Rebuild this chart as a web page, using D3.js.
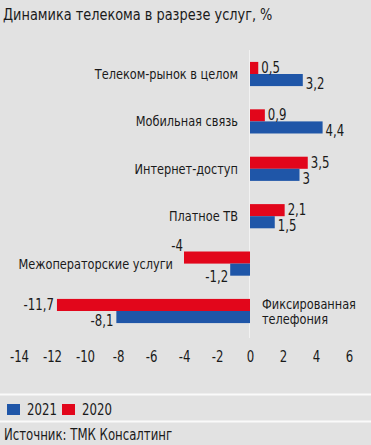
<!DOCTYPE html>
<html>
<head>
<meta charset="utf-8">
<script src="https://cdn.jsdelivr.net/npm/d3@7"></script>
<style>
  html, body { margin: 0; padding: 0; background: #e2e2e2; }
  svg { display: block; font-family: "DejaVu Sans Condensed", "Liberation Sans Narrow", sans-serif; }
</style>
</head>
<body>
<svg id="chart" width="371" height="445"></svg>
<script>
// data
const categories = ['Телеком-рынок в целом', 'Мобильная связь', 'Интернет-доступ', 'Платное ТВ', 'Межоператорские услуги', 'Фиксированная телефония'];
const series = ['2020', '2021'];
const values2020 = [0.5, 0.9, 3.5, 2.1, -4, -11.7];
const values2021 = [3.2, 4.4, 3, 1.5, -1.2, -8.1];
const xTicks = [-14, -12, -10, -8, -6, -4, -2, 0, 2, 4, 6];
const colors = { '2021': '#1f56a8', '2020': '#e2061b' };

const svg = d3.select('#chart');
const width = 371;
const SX = 0.87; // narrow the font a bit, the original uses a condensed face
const textColor = '#1a1a1a';

const locale = d3.formatLocale({ decimal: ',', thousands: ' ', grouping: [3], currency: ['', ''], minus: '-' });
const fmt = locale.format('~g');

const x = d3.scaleLinear().domain([-14, 6]).range([19, 349]);
const y = d3.scaleBand().domain(categories).range([50.3, 334.7]).paddingInner(0.49).paddingOuter(0.245);
const ySub = d3.scaleBand().domain(series).range([0, y.bandwidth()]);

function addText(parent, tx, ty, str, size, anchor) {
    return parent.append('text')
        .attr('transform', `translate(${tx}, ${ty}) scale(${SX}, 1)`)
        .attr('text-anchor', anchor || 'start')
        .attr('font-size', size)
        .attr('fill', textColor)
        .text(str);
}

// title
addText(svg, 3, 20, 'Динамика телекома в разрезе услуг, %', 16.5);

// zero line
svg.append('line')
    .attr('x1', x(0) - 0.5).attr('x2', x(0) - 0.5)
    .attr('y1', 50).attr('y2', 338)
    .attr('stroke', '#f2f2f2')
    .attr('stroke-width', 1);

const rows = categories.map((c, i) => ({ cat: c, '2020': values2020[i], '2021': values2021[i] }));

const groups = svg.append('g').selectAll('g')
    .data(rows)
    .enter()
    .append('g')
    .attr('transform', (d) => `translate(0, ${y(d.cat)})`);

groups.selectAll('rect')
    .data((d) => series.map((s) => ({ key: s, value: d[s] })))
    .enter()
    .append('rect')
    .attr('x', (d) => x(Math.min(0, d.value)))
    .attr('width', (d) => Math.abs(x(d.value) - x(0)))
    .attr('y', (d) => ySub(d.key))
    .attr('height', ySub.bandwidth())
    .attr('fill', (d) => colors[d.key]);

// value labels
groups.each(function (d) {
    const g = d3.select(this);
    const bw = ySub.bandwidth();
    series.forEach((s) => {
        const v = d[s];
        const bottom = ySub(s) + bw;
        let tx = v >= 0 ? x(v) + 3 : x(v) - 3;
        let ty = s === '2020' ? bottom - 1 : bottom + 3;
        const anchor = v >= 0 ? 'start' : 'end';
        // short negative bars: labels pushed off the bar ends
        if (v < 0 && s === '2020' && v > -6) {
            tx = x(v) - 1;
            ty = ySub(s) - 1;
        }
        if (v < 0 && s === '2021' && v > -6) {
            tx = x(v) - 2;
            ty = bottom + 6;
        }
        addText(g, tx, ty, fmt(v), 15, anchor);
    });
});

// category labels
groups.each(function (d) {
    const g = d3.select(this);
    const minV = Math.min(d['2020'], d['2021']);
    const mid = y.bandwidth() / 2;
    if (minV >= 0) {
        addText(g, x(0) - 12, mid + 5, d.cat, 14.5, 'end');
    } else if (minV > -6) {
        addText(g, x(minV) - 11, mid + 5, d.cat, 14.5, 'end');
    } else {
        const label = addText(g, x(0) + 12, 0, '', 14.5, 'start');
        d.cat.split(' ').forEach((w, k) => {
            label.append('tspan')
                .attr('x', 0)
                .attr('y', mid - 2 + k * 15.5)
                .text(w);
        });
    }
});

// x axis
const xAxis = d3.axisBottom(x)
    .tickValues(xTicks)
    .tickSize(0)
    .tickPadding(0)
    .tickFormat((d) => fmt(d));

const xAxisContainer = svg.append('g')
    .attr('class', 'x-axis')
    .attr('transform', 'translate(0, 351)')
    .call(xAxis);
xAxisContainer.select('.domain').remove();
xAxisContainer.selectAll('text')
    .attr('font-size', 15)
    .attr('font-family', '"DejaVu Sans Condensed", sans-serif')
    .attr('fill', textColor)
    .attr('transform', `scale(${SX}, 1)`)
    .attr('dy', '0.71em');

// separators
[394.5, 421.5].forEach((yy) => {
    svg.append('line')
        .attr('x1', 0).attr('x2', width)
        .attr('y1', yy).attr('y2', yy)
        .attr('stroke', '#fafafa')
        .attr('stroke-width', 2);
});

// legend
const legendItems = [{ key: '2021', x: 7 }, { key: '2020', x: 62 }];
const legend = svg.append('g').attr('transform', 'translate(0, 403)');
legendItems.forEach((it) => {
    legend.append('rect')
        .attr('x', it.x).attr('y', 1)
        .attr('width', 13).attr('height', 11)
        .attr('fill', colors[it.key]);
    addText(legend, it.x + 20, 12, it.key, 15);
});

// source
addText(svg, 4, 440, 'Источник: ТМК Консалтинг', 15);
</script>
</body>
</html>
